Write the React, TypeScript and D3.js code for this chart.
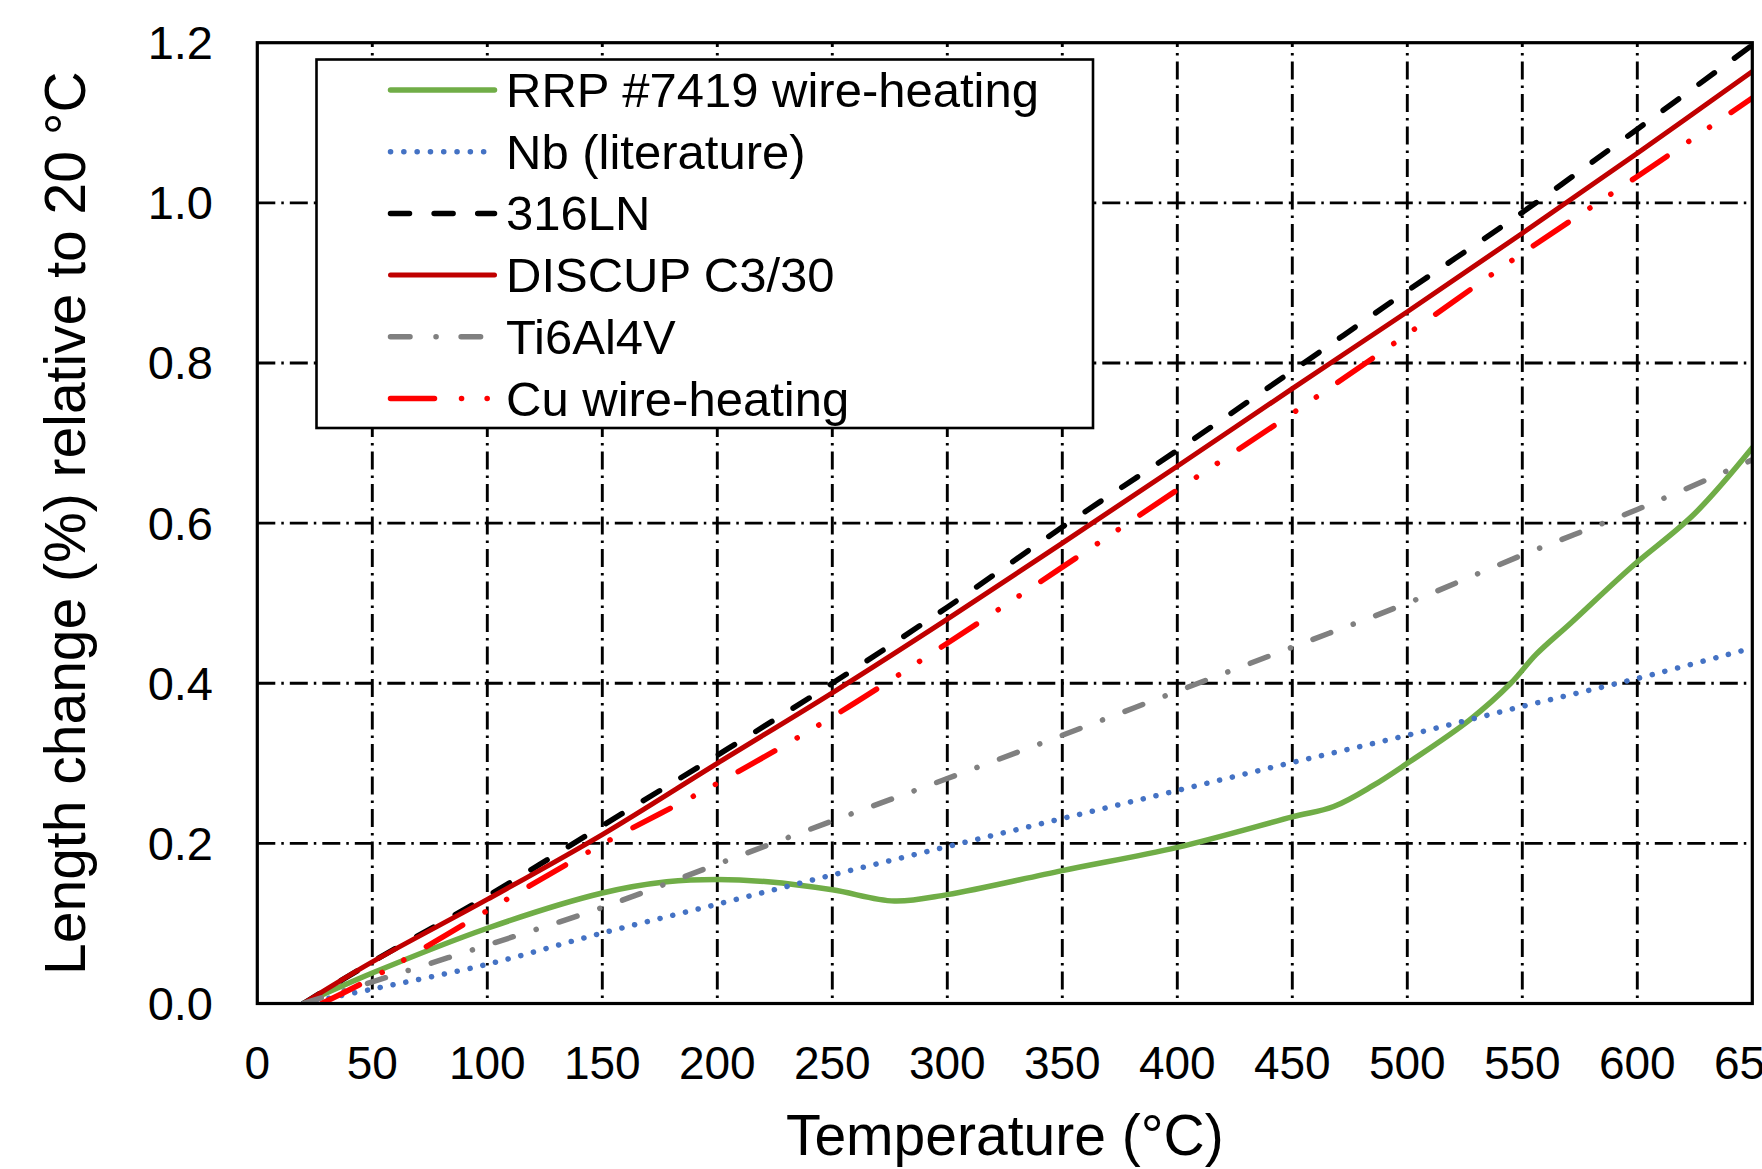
import React, { useEffect, useRef } from "react";
import * as d3 from "d3";

// Axis ticks
const xTicks = [0, 50, 100, 150, 200, 250, 300, 350, 400, 450, 500, 550, 600, 650];
const yTicks = [0, 0.2, 0.4, 0.6, 0.8, 1.0, 1.2];

// Series (temperature in °C, length change in %)
const rrpTemp = [20, 50, 100, 150, 178, 200, 222, 250, 277, 300, 350, 400, 450, 468, 485, 500, 527, 545, 556, 571, 597, 625, 650];
const rrpChange = [0, 0.038, 0.094, 0.138, 0.152, 0.155, 0.152, 0.142, 0.128, 0.136, 0.166, 0.195, 0.233, 0.246, 0.272, 0.3, 0.354, 0.4, 0.436, 0.475, 0.544, 0.612, 0.694];

const nbTemp = [20, 50, 100, 150, 200, 250, 300, 350, 400, 450, 500, 550, 600, 650];
const nbChange = [0, 0.018, 0.049, 0.088, 0.124, 0.1605, 0.196, 0.231, 0.266, 0.301, 0.335, 0.371, 0.406, 0.444];

const ssTemp = [20, 50, 100, 150, 200, 250, 300, 350, 400, 450, 500, 550, 600, 650];
const ssChange = [0, 0.052, 0.134, 0.222, 0.31, 0.4, 0.495, 0.595, 0.691, 0.79, 0.89, 0.988, 1.092, 1.197];

const discupTemp = [20, 50, 100, 150, 200, 250, 300, 350, 400, 450, 500, 550, 600, 650];
const discupChange = [0, 0.052, 0.13, 0.211, 0.3, 0.388, 0.48, 0.575, 0.671, 0.768, 0.864, 0.962, 1.062, 1.164];

const tiTemp = [20, 50, 100, 150, 200, 250, 300, 350, 400, 450, 500, 550, 600, 650];
const tiChange = [0, 0.027, 0.073, 0.12, 0.174, 0.228, 0.281, 0.335, 0.39, 0.445, 0.5, 0.56, 0.617, 0.679];

const cuTemp = [28, 50, 100, 150, 200, 250, 300, 350, 400, 450, 500, 550, 600, 650];
const cuChange = [0, 0.032, 0.116, 0.199, 0.275, 0.358, 0.45, 0.545, 0.6415, 0.737, 0.836, 0.937, 1.033, 1.131];

const labels = [
  "RRP #7419 wire-heating",
  "Nb (literature)",
  "316LN",
  "DISCUP C3/30",
  "Ti6Al4V",
  "Cu wire-heating",
];

const FONT = "'Liberation Sans', Arial, Helvetica, sans-serif";

const App = () => {
  const ref = useRef<SVGSVGElement | null>(null);

  useEffect(() => {
    const W = 1762;
    const H = 1169;
    const left = 257.3;
    const right = 1752.3;
    const top = 42.7;
    const bottom = 1003.5;

    const svg = d3.select(ref.current);
    svg.selectAll("*").remove();
    svg.attr("width", W).attr("height", H);

    svg.append("rect").attr("width", W).attr("height", H).attr("fill", "white");

    const x = d3.scaleLinear().domain([0, 650]).range([left, right]);
    const y = d3.scaleLinear().domain([0, 1.2]).range([bottom, top]);

    const series = [
      { label: labels[0], t: rrpTemp, v: rrpChange, color: "#70AD47", width: 5.5, dash: null, legendDash: null },
      { label: labels[1], t: nbTemp, v: nbChange, color: "#4472C4", width: 5.5, dash: "0.1,13", legendDash: "0.1,13.2" },
      { label: labels[2], t: ssTemp, v: ssChange, color: "#000000", width: 5.5, dash: "19,25", legendDash: "19,24.6" },
      { label: labels[3], t: discupTemp, v: discupChange, color: "#C00000", width: 5, dash: null, legendDash: null },
      { label: labels[4], t: tiTemp, v: tiChange, color: "#808080", width: 5.5, dash: "19,24,0.1,24", legendDash: "19.5,26,0.1,25" },
      { label: labels[5], t: cuTemp, v: cuChange, color: "#FF0000", width: 5.5, dash: "42,26,0.1,25,0.1,26", legendDash: "44,27,0.1,25.5,0.1,23.4" },
    ];

    // gridlines (dash-dot)
    const grid = svg.append("g").attr("stroke", "black").attr("stroke-width", 2.9).attr("fill", "none");
    xTicks.slice(1, -1).forEach((t) => {
      grid
        .append("line")
        .attr("x1", x(t))
        .attr("x2", x(t))
        .attr("y1", bottom)
        .attr("y2", top)
        .attr("stroke-dasharray", "18,6,2.5,6")
        .attr("stroke-dashoffset", 18.5);
    });
    yTicks.slice(1, -1).forEach((v) => {
      grid
        .append("line")
        .attr("x1", left)
        .attr("x2", right)
        .attr("y1", y(v))
        .attr("y2", y(v))
        .attr("stroke-dasharray", "18,6,2.5,6");
    });

    // clip for the curves
    svg
      .append("clipPath")
      .attr("id", "plot-clip")
      .append("rect")
      .attr("x", left)
      .attr("y", top)
      .attr("width", right - left)
      .attr("height", bottom - top);

    const line = d3
      .line<[number, number]>()
      .x((d) => x(d[0]))
      .y((d) => y(d[1]))
      .curve(d3.curveCatmullRom.alpha(0.5));

    const curves = svg.append("g").attr("clip-path", "url(#plot-clip)");
    series.forEach((s) => {
      const pts = s.t.map((t, i) => [t, s.v[i]] as [number, number]);
      curves
        .append("path")
        .attr("d", line(pts))
        .attr("fill", "none")
        .attr("stroke", s.color)
        .attr("stroke-width", s.width)
        .attr("stroke-linecap", "round")
        .attr("stroke-linejoin", "round")
        .attr("stroke-dasharray", s.dash);
    });

    // plot frame
    svg
      .append("rect")
      .attr("x", left)
      .attr("y", top)
      .attr("width", right - left)
      .attr("height", bottom - top)
      .attr("fill", "none")
      .attr("stroke", "black")
      .attr("stroke-width", 3.2);

    // tick labels
    svg
      .append("g")
      .selectAll("text")
      .data(xTicks)
      .enter()
      .append("text")
      .attr("x", (d) => x(d))
      .attr("y", 1079)
      .attr("text-anchor", "middle")
      .attr("font-family", FONT)
      .attr("font-size", 46)
      .text((d) => d);

    svg
      .append("g")
      .selectAll("text")
      .data(yTicks)
      .enter()
      .append("text")
      .attr("x", 213)
      .attr("y", (d) => y(d) + 16.5)
      .attr("text-anchor", "end")
      .attr("font-family", FONT)
      .attr("font-size", 47)
      .text((d) => d3.format(".1f")(d));

    // axis titles
    svg
      .append("text")
      .attr("x", (left + right) / 2)
      .attr("y", 1155)
      .attr("text-anchor", "middle")
      .attr("font-family", FONT)
      .attr("font-size", 57)
      .text("Temperature (°C)");

    svg
      .append("text")
      .attr("transform", `translate(85, ${(top + bottom) / 2}) rotate(-90)`)
      .attr("text-anchor", "middle")
      .attr("font-family", FONT)
      .attr("font-size", 57)
      .text("Length change (%) relative to 20 °C");

    // legend
    const legend = svg.append("g");
    legend
      .append("rect")
      .attr("x", 316.5)
      .attr("y", 59.5)
      .attr("width", 776.5)
      .attr("height", 368.5)
      .attr("fill", "white")
      .attr("stroke", "black")
      .attr("stroke-width", 2.6);

    series.forEach((s, i) => {
      const cy = 90 + i * 61.7;
      legend
        .append("line")
        .attr("x1", 390.5)
        .attr("x2", 494.5)
        .attr("y1", cy)
        .attr("y2", cy)
        .attr("stroke", s.color)
        .attr("stroke-width", s.width)
        .attr("stroke-linecap", "round")
        .attr("stroke-dasharray", s.legendDash);
      legend
        .append("text")
        .attr("x", 506)
        .attr("y", cy + 17)
        .attr("font-family", FONT)
        .attr("font-size", 49)
        .text(s.label);
    });
  }, []);

  return (
    <div style={{ position: "absolute", left: 0, top: 0, width: 1762, height: 1169, overflow: "hidden" }}>
      <svg ref={ref} style={{ display: "block" }}></svg>
    </div>
  );
};

export default App;
